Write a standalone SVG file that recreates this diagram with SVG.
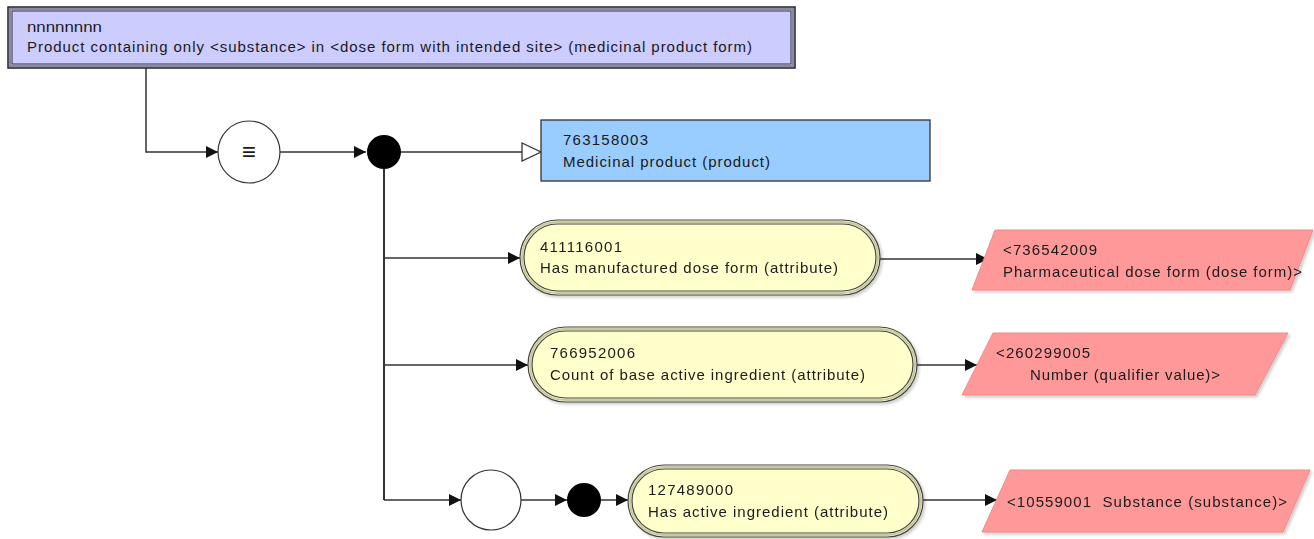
<svg xmlns="http://www.w3.org/2000/svg" width="1314" height="539" viewBox="0 0 1314 539">
<style>
text{font-family:"Liberation Sans",Arial,sans-serif;font-size:15px;fill:#1a1a1a}
.ln{fill:none;stroke:#333;stroke-width:1.5}
.pill{fill:#ffffcc;stroke:#444;stroke-width:1.2}
.pillin{fill:none;stroke:#444;stroke-width:1.2}
.gap{fill:none;stroke:#c8c8a0;stroke-width:2}
.para{fill:#ff9999;stroke:#f08a8a;stroke-width:1}
</style>
<defs>
<marker id="arr" markerUnits="userSpaceOnUse" markerWidth="13" markerHeight="12" refX="12" refY="6" orient="auto"><path d="M0,0 L12,6 L0,12 z" fill="#111"/></marker>
<marker id="tri" markerUnits="userSpaceOnUse" markerWidth="22" markerHeight="20" refX="20" refY="10" orient="auto"><path d="M1,1 L20,10 L1,19 z" fill="#fff" stroke="#333" stroke-width="1.3"/></marker>
<filter id="sh" x="-5%" y="-10%" width="115%" height="130%"><feGaussianBlur in="SourceAlpha" stdDeviation="1.5"/><feOffset dx="2" dy="2"/><feComponentTransfer><feFuncA type="linear" slope="0.2"/></feComponentTransfer><feMerge><feMergeNode/><feMergeNode in="SourceGraphic"/></feMerge></filter>
</defs>
<g id="connectors">
<path class="ln" d="M146,68 V152 H218" marker-end="url(#arr)"/>
<path class="ln" d="M280,152 H366" marker-end="url(#arr)"/>
<path class="ln" d="M401,152 H541" marker-end="url(#tri)"/>
<path class="ln" d="M384,168 V500" style="stroke-width:2"/>
<path class="ln" d="M384,258 H520" marker-end="url(#arr)"/>
<path class="ln" d="M384,365 H528" marker-end="url(#arr)"/>
<path class="ln" d="M384,500 H461" marker-end="url(#arr)"/>
<path class="ln" d="M521,500 H567" marker-end="url(#arr)"/>
<path class="ln" d="M601,500 H628" marker-end="url(#arr)"/>
<path class="ln" d="M880,259 H988" marker-end="url(#arr)"/>
<path class="ln" d="M917,365 H977" marker-end="url(#arr)"/>
<path class="ln" d="M923,500 H997" marker-end="url(#arr)"/>
</g>
<g id="n-top">
<rect x="8" y="7" width="787" height="61" fill="#ccccff" stroke="#222" stroke-width="1.5"/>
<rect x="10" y="9" width="783" height="57" fill="none" stroke="#8a8aa8" stroke-width="2"/>
<rect x="12" y="11" width="779" height="53" fill="none" stroke="#333" stroke-width="1"/>
<text x="27" y="32" textLength="75" lengthAdjust="spacingAndGlyphs">nnnnnnnn</text>
<text x="27" y="52" textLength="725" lengthAdjust="spacing">Product containing only &lt;substance&gt; in &lt;dose form with intended site&gt; (medicinal product form)</text>
</g>
<g id="n-equiv">
<circle cx="249" cy="152" r="31" fill="#fff" stroke="#333" stroke-width="1.2"/>
<text x="249" y="160" text-anchor="middle" style="font-size:24px">≡</text>
</g>
<g id="n-dot1"><circle cx="384" cy="152" r="17" fill="#000"/></g>
<g id="n-763158003">
<rect x="541" y="120" width="389" height="61" fill="#99ccff" stroke="#333" stroke-width="1.3"/>
<text x="563" y="145" textLength="85" lengthAdjust="spacing">763158003</text>
<text x="563" y="167" textLength="207" lengthAdjust="spacing">Medicinal product (product)</text>
</g>
<g id="n-411116001" filter="url(#sh)">
<rect class="pill" x="520" y="220" width="360" height="75" rx="37.5"/>
<rect class="gap" x="522" y="222" width="356" height="71" rx="35.5"/>
<rect class="pillin" x="524" y="224" width="352" height="67" rx="33.5"/>
<text x="540" y="252" textLength="82" lengthAdjust="spacing">411116001</text>
<text x="540" y="273" textLength="298" lengthAdjust="spacing">Has manufactured dose form (attribute)</text>
</g>
<g id="n-766952006" filter="url(#sh)">
<rect class="pill" x="528" y="327" width="389" height="75" rx="37.5"/>
<rect class="gap" x="530" y="329" width="385" height="71" rx="35.5"/>
<rect class="pillin" x="532" y="331" width="381" height="67" rx="33.5"/>
<text x="550" y="358" textLength="85" lengthAdjust="spacing">766952006</text>
<text x="550" y="380" textLength="315" lengthAdjust="spacing">Count of base active ingredient (attribute)</text>
</g>
<g id="n-circle2"><circle cx="491" cy="500" r="30" fill="#fff" stroke="#333" stroke-width="1.2"/></g>
<g id="n-dot2"><circle cx="584" cy="500" r="17" fill="#000"/></g>
<g id="n-127489000" filter="url(#sh)">
<rect class="pill" x="628" y="465" width="295" height="72" rx="36"/>
<rect class="gap" x="630" y="467" width="291" height="68" rx="34"/>
<rect class="pillin" x="632" y="469" width="287" height="64" rx="32"/>
<text x="648" y="495" textLength="85" lengthAdjust="spacing">127489000</text>
<text x="648" y="517" textLength="240" lengthAdjust="spacing">Has active ingredient (attribute)</text>
</g>
<g id="n-736542009" filter="url(#sh)">
<path class="para" d="M995,230 H1313 L1290,290 H972 Z"/>
<text x="1003" y="255" textLength="94" lengthAdjust="spacing">&lt;736542009</text>
<text x="1003" y="277" textLength="299" lengthAdjust="spacing">Pharmaceutical dose form (dose form)&gt;</text>
</g>
<g id="n-260299005" filter="url(#sh)">
<path class="para" d="M993,333 H1288 L1255,395 H962 Z"/>
<text x="996" y="358" textLength="94" lengthAdjust="spacing">&lt;260299005</text>
<text x="1030" y="380" textLength="190" lengthAdjust="spacing">Number (qualifier value)&gt;</text>
</g>
<g id="n-10559001" filter="url(#sh)">
<path class="para" d="M1010,470 H1310 L1283,532 H982 Z"/>
<text x="1007" y="507" textLength="280" lengthAdjust="spacing" xml:space="preserve">&lt;10559001  Substance (substance)&gt;</text>
</g>
</svg>
